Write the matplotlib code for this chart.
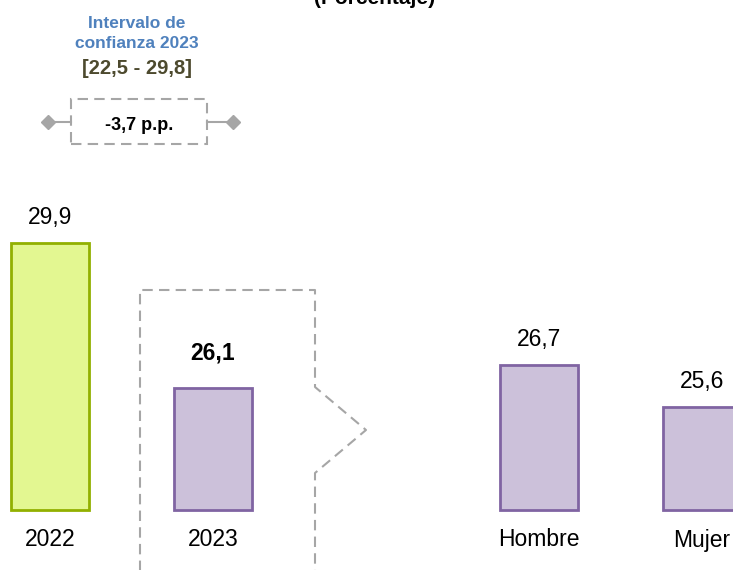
import matplotlib
matplotlib.use("Agg")
import matplotlib.pyplot as plt
from matplotlib.lines import Line2D
from matplotlib.patches import Rectangle
import matplotlib.transforms as mtransforms

# ---- data ----
categories = ["2022", "2023", "Hombre", "Mujer"]
positions = [0, 1, 3, 4]
values = [29.9, 26.1, 26.7, 25.6]
value_labels = ["29,9", "26,1", "26,7", "25,6"]
label_bold = [False, True, False, False]
fill_colors = ["#e3f791", "#ccc1da", "#ccc1da", "#ccc1da"]
edge_colors = ["#92b000", "#8064a2", "#8064a2", "#8064a2"]
base_value = 22.9
title_text = "(Porcentaje)"
ci_title = ["Intervalo de", "confianza 2023"]
ci_range = "[22,5 - 29,8]"
diff_text = "-3,7 p.p."

FONT = ["Liberation Sans Narrow", "Liberation Sans", "DejaVu Sans"]
plt.rcParams["font.family"] = FONT

W, H = 733, 570
fig = plt.figure(figsize=(W / 100, H / 100), dpi=100)
ax = fig.add_axes([0, 0, 1, 1])
ax.axis("off")

# x: pixel = 50 + 163*pos ; y: baseline pixel 510 at base_value, 38.2 px per unit
ppu_x, ppu_y = 163.0, 38.2
ax.set_xlim(-50 / ppu_x, (W - 50) / ppu_x)
ax.set_ylim(base_value - (H - 510) / ppu_y, base_value + 510 / ppu_y)

bar_w = 78 / ppu_x
for p, v, fc, ec in zip(positions, values, fill_colors, edge_colors):
    ax.bar(p, v - base_value, bottom=base_value, width=bar_w,
           color=fc, edgecolor=ec, linewidth=2, zorder=3)

for p, v, lab, b in zip(positions, values, value_labels, label_bold):
    ax.annotate(lab, (p, v), xytext=(0, 35 if b else 25), textcoords="offset pixels",
                ha="center", va="center", fontsize=16.5,
                fontweight="bold" if b else "normal", color="#000000")

trans_x = mtransforms.blended_transform_factory(ax.transData, ax.transAxes)
for p, c in zip(positions, categories):
    ax.text(p, 1 - 540 / H, c, transform=trans_x, ha="center", va="center",
            fontsize=16.5, color="#000000")

# ---- decorations in pixel coordinates ----
def fx(x):
    return x / W

def fy(y):
    return 1 - y / H

gray = "#a6a6a6"
dash = (0, (5, 3))
outline = [(140, 580), (140, 290), (315, 290), (315, 387), (366, 430),
           (315, 473), (315, 580)]
fig.add_artist(Line2D([fx(x) for x, _ in outline], [fy(y) for _, y in outline],
                      transform=fig.transFigure, color=gray, lw=1.5,
                      linestyle=dash, zorder=1))

fig.add_artist(Rectangle((fx(71), fy(144)), fx(207) - fx(71), fy(99) - fy(144),
                         transform=fig.transFigure, fill=False, edgecolor=gray,
                         lw=1.5, linestyle=dash))
fig.add_artist(Line2D([fx(48), fx(71)], [fy(122), fy(122)], transform=fig.transFigure,
                      color=gray, lw=1.5))
fig.add_artist(Line2D([fx(207), fx(233)], [fy(122), fy(122)], transform=fig.transFigure,
                      color=gray, lw=1.5))
fig.add_artist(Line2D([fx(48), fx(233)], [fy(122), fy(122)], transform=fig.transFigure,
                      color=gray, lw=0, marker="D", markersize=7))

fig.text(fx(139), fy(125), diff_text, ha="center", va="center", fontsize=13,
         fontweight="bold", color="#000000")
fig.text(fx(137), fy(23), ci_title[0], ha="center", va="center", fontsize=12.5,
         fontweight="bold", color="#4f81bd")
fig.text(fx(137), fy(44), ci_title[1], ha="center", va="center", fontsize=12.5,
         fontweight="bold", color="#4f81bd")
fig.text(fx(137), fy(68), ci_range, ha="center", va="center", fontsize=14.5,
         fontweight="bold", color="#4d4a2e")
fig.text(fx(375), fy(4), title_text, ha="center", va="baseline", fontsize=15,
         fontweight="bold", color="#000000")

fig.savefig("out.png", dpi=100)
